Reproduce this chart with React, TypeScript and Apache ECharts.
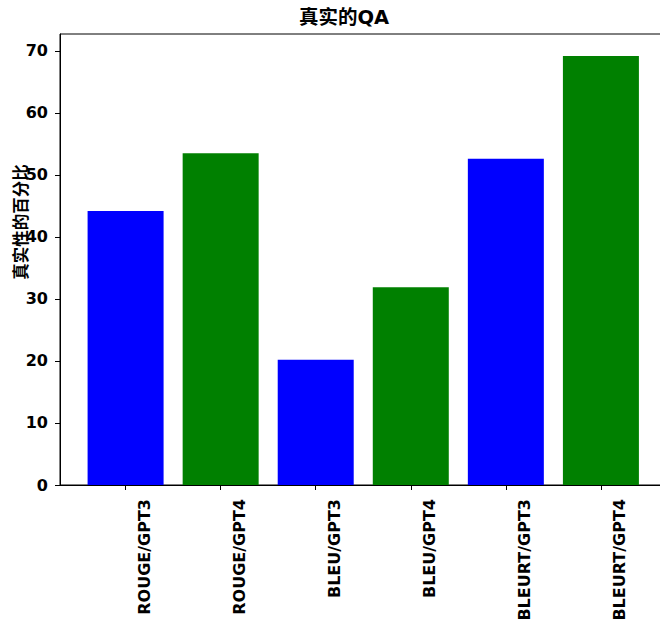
import React, { useEffect, useRef } from "react";
import * as echarts from "echarts";

const categories = ["ROUGE/GPT3", "ROUGE/GPT4", "BLEU/GPT3", "BLEU/GPT4", "BLEURT/GPT3", "BLEURT/GPT4"];
const values = [44.2, 53.5, 20.2, 31.9, 52.6, 69.2];
const barColors = ["#0000ff", "#008000", "#0000ff", "#008000", "#0000ff", "#008000"];
const yTicks = [0, 10, 20, 30, 40, 50, 60, 70];
const title = "真实的QA";
const yName = "真实性的百分比";

const LABEL_SHIFT = 0.2;
const FONT = "DejaVu Sans, 'Noto Sans CJK SC', sans-serif";

export default function App() {
  const ref = useRef<HTMLDivElement>(null);
  useEffect(() => {
    if (!ref.current) return;
    const chart = echarts.init(ref.current, undefined, { renderer: "svg" });
    const positions = categories.map((_, i) => i);
    chart.setOption({
      animation: false,
      backgroundColor: "#ffffff",
      grid: {
        left: 60,
        right: 0.5,
        top: 34,
        bottom: 144,
        show: true,
        borderColor: "#000",
        borderWidth: 1,
        containLabel: false,
        outerBoundsMode: "none",
      },
      graphic: [
        {
          type: "text",
          x: 344,
          y: 17,
          style: {
            text: title,
            font: `bold 19.5px ${FONT}`,
            fill: "#000",
            align: "center",
            verticalAlign: "middle",
          },
        },
        {
          type: "text",
          x: 21,
          y: 222,
          rotation: Math.PI / 2,
          style: {
            text: yName,
            font: `bold 16.5px ${FONT}`,
            fill: "#000",
            align: "center",
            verticalAlign: "middle",
          },
        },
      ],
      xAxis: {
        type: "value",
        min: -0.69,
        max: 5.69,
        splitLine: { show: false },
        axisLine: { show: true, onZero: false, lineStyle: { color: "#000", width: 1 } },
        axisTick: {
          show: true,
          inside: false,
          length: 5,
          customValues: positions,
          lineStyle: { color: "#000", width: 1 },
        },
        axisLabel: {
          show: true,
          customValues: positions.map((p) => p + LABEL_SHIFT),
          formatter: (v: number) => categories[Math.round(v)] ?? "",
          rotate: 90,
          margin: 14,
          color: "#000",
          fontWeight: "bold",
          fontSize: 16,
          fontFamily: FONT,
        },
      },
      yAxis: {
        type: "value",
        min: 0,
        max: 72.74,
        splitLine: { show: false },
        axisLine: { show: true, onZero: false, lineStyle: { color: "#000", width: 1 } },
        axisTick: {
          show: true,
          inside: false,
          length: 5,
          customValues: yTicks,
          lineStyle: { color: "#000", width: 1 },
        },
        axisLabel: {
          show: true,
          customValues: yTicks,
          margin: 12,
          color: "#000",
          fontWeight: "bold",
          fontSize: 16,
          fontFamily: FONT,
        },
      },
      series: [
        {
          type: "bar",
          barWidth: 76,
          data: values.map((v, i) => ({
            value: [i, v],
            itemStyle: { color: barColors[i] },
          })),
        },
      ],
    });
    return () => chart.dispose();
  }, []);
  return (
    <div style={{ position: "fixed", left: 0, top: 0, width: 660, height: 629, overflow: "hidden", background: "#fff" }}>
      <div ref={ref} style={{ width: 667, height: 629 }} />
    </div>
  );
}
